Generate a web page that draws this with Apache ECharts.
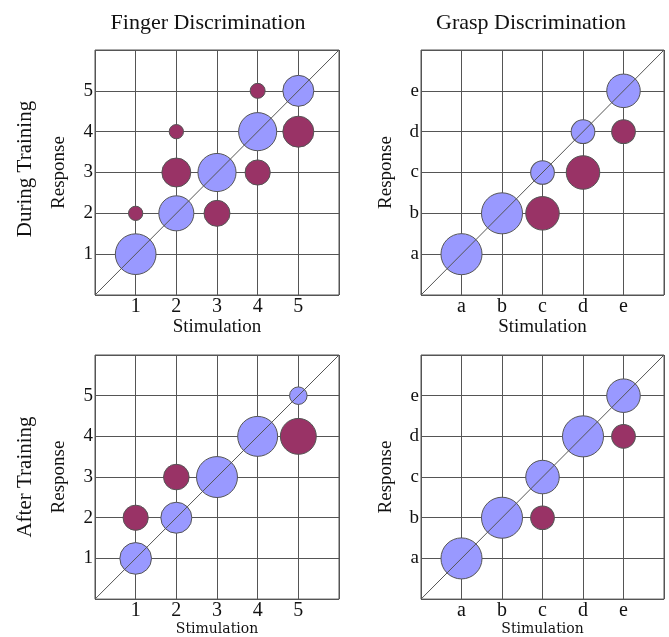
<!DOCTYPE html>
<html>
<head>
<meta charset="utf-8">
<script src="https://cdn.jsdelivr.net/npm/echarts@6/dist/echarts.min.js"></script>
<style>
  html, body { margin: 0; padding: 0; background: #fff; }
  #chart { width: 669px; height: 637px; }
</style>
</head>
<body>
<div id="chart"></div>
<script>
// tick labels
const fingerLabels = ['1', '2', '3', '4', '5'];
const graspLabels = ['a', 'b', 'c', 'd', 'e'];

// [stimulation, response, count]
const fingerDuringCorrect = [[1, 1, 8.1], [2, 2, 6.0], [3, 3, 7.1], [4, 4, 7.1], [5, 5, 4.7]];
const fingerDuringError = [[1, 2, 1.0], [2, 3, 4.1], [2, 4, 1.0], [3, 2, 3.3], [4, 3, 3.1], [4, 5, 1.1], [5, 4, 4.7]];
const fingerAfterCorrect = [[1, 1, 4.9], [2, 2, 4.7], [3, 3, 8.2], [4, 4, 7.8], [5, 5, 1.5]];
const fingerAfterError = [[1, 2, 3.1], [2, 3, 3.2], [5, 4, 6.3]];
const graspDuringCorrect = [[1, 1, 3], [2, 2, 3], [3, 3, 1], [4, 4, 1], [5, 5, 2]];
const graspDuringError = [[3, 2, 2], [4, 3, 2], [5, 4, 1]];
const graspAfterCorrect = [[1, 1, 3], [2, 2, 3], [3, 3, 2], [4, 4, 3], [5, 5, 2]];
const graspAfterError = [[3, 2, 1], [5, 4, 1]];

const serif = '"Liberation Serif", "Times New Roman", serif';
const blue = '#9999ff';
const purple = '#993366';

const grids = [
  { left: 95, top: 50, width: 244, height: 245 },
  { left: 421, top: 50, width: 243, height: 245 },
  { left: 95, top: 355, width: 244, height: 245 },
  { left: 421, top: 355, width: 243, height: 245 }
].map(g => Object.assign(g, { show: true, borderColor: '#555', borderWidth: 1, backgroundColor: 'transparent' }));

function tickFormatter(labels) {
  return v => (v >= 1 && v <= 5) ? labels[v - 1] : '';
}

function axisBase() {
  return {
    type: 'value', min: 0, max: 6, interval: 1,
    axisLine: { show: false },
    axisTick: { show: false },
    splitLine: { show: true, lineStyle: { color: '#555', width: 1 } }
  };
}

const panels = [
  { labels: fingerLabels, correct: fingerDuringCorrect, error: fingerDuringError, scale: 14.3, bottom: false },
  { labels: graspLabels, correct: graspDuringCorrect, error: graspDuringError, scale: 23.7, bottom: false },
  { labels: fingerLabels, correct: fingerAfterCorrect, error: fingerAfterError, scale: 14.3, bottom: true },
  { labels: graspLabels, correct: graspAfterCorrect, error: graspAfterError, scale: 23.7, bottom: true }
];

const xAxis = panels.map((p, i) => Object.assign(axisBase(), {
  gridIndex: i,
  name: 'Stimulation',
  nameLocation: 'middle',
  nameGap: p.bottom ? 21 : 22,
  nameTextStyle: p.bottom
    ? { fontFamily: '"DejaVu Serif", serif', fontSize: 14, color: '#111' }
    : { fontFamily: serif, fontSize: 19, color: '#111' },
  axisLabel: { formatter: tickFormatter(p.labels), fontFamily: serif, fontSize: 20, color: '#111', margin: 2 }
}));

const yAxis = panels.map((p, i) => Object.assign(axisBase(), {
  gridIndex: i,
  name: 'Response',
  nameLocation: 'middle',
  nameRotate: 90,
  nameGap: i % 2 === 0 ? 26 : 25,
  nameTextStyle: { fontFamily: serif, fontSize: 19, color: '#111' },
  axisLabel: { formatter: tickFormatter(p.labels), fontFamily: serif, fontSize: 19, color: '#111', margin: 2 }
}));

const series = [];
panels.forEach((p, i) => {
  const size = d => p.scale * Math.sqrt(d[2]);
  series.push({
    type: 'scatter', xAxisIndex: i, yAxisIndex: i, data: p.error,
    symbolSize: size, z: 2,
    itemStyle: { color: purple, borderColor: '#555', borderWidth: 1, opacity: 1 }
  });
  series.push({
    type: 'scatter', xAxisIndex: i, yAxisIndex: i, data: p.correct,
    symbolSize: size, z: 2,
    itemStyle: { color: blue, borderColor: '#555', borderWidth: 1, opacity: 1 }
  });
  // diagonal reference
  series.push({
    type: 'line', xAxisIndex: i, yAxisIndex: i, data: [[0, 0], [6, 6]],
    symbol: 'none', z: 5, silent: true,
    lineStyle: { color: '#555', width: 1 }
  });
});

const chart = echarts.init(document.getElementById('chart'));
chart.setOption({
  animation: false,
  backgroundColor: '#fff',
  title: [
    { text: 'Finger Discrimination', left: 203, top: 7, textAlign: 'center',
      textStyle: { fontFamily: serif, fontSize: 22, fontWeight: 'normal', color: '#111' } },
    { text: 'Grasp Discrimination', left: 526, top: 7, textAlign: 'center',
      textStyle: { fontFamily: serif, fontSize: 22, fontWeight: 'normal', color: '#111' } }
  ],
  graphic: [
    { type: 'text', x: 25, y: 169, rotation: Math.PI / 2,
      style: { text: 'During Training', fontFamily: serif, fontSize: 21, fill: '#111', align: 'center', verticalAlign: 'middle' } },
    { type: 'text', x: 25, y: 477, rotation: Math.PI / 2,
      style: { text: 'After Training', fontFamily: serif, fontSize: 21, fill: '#111', align: 'center', verticalAlign: 'middle' } }
  ],
  grid: grids,
  xAxis: xAxis,
  yAxis: yAxis,
  series: series
});
</script>
</body>
</html>
